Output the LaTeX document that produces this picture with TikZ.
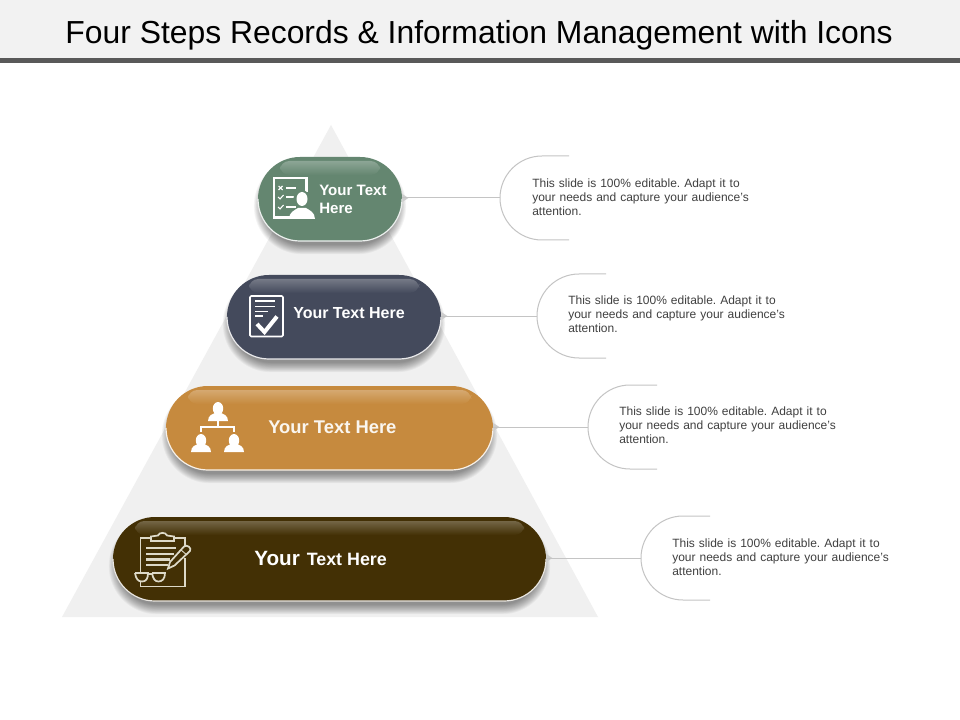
\documentclass[tikz,border=0pt]{standalone}
\usepackage{fontspec}
\setmainfont{Liberation Sans}
\usetikzlibrary{calc}
\definecolor{tri}{HTML}{F0F0F0}
\definecolor{cA}{HTML}{648670}
\definecolor{cB}{HTML}{444A5C}
\definecolor{cC}{HTML}{C68A3E}
\definecolor{cD}{HTML}{433005}
\definecolor{ruleg}{HTML}{C4C4C4}
\definecolor{bodyt}{HTML}{404040}
\definecolor{iconD}{HTML}{DDD9C8}
\tikzset{
  x=0.75pt,y=-0.75pt,
  pillbox/.style={rounded corners=31.5pt,minimum height=63pt,inner sep=0pt,fill=#1},
  lead/.style={draw=ruleg,line width=0.75pt},
  leaddot/.style={fill=ruleg!85!white},
  bodytext/.style={anchor=north west,inner sep=0pt,align=left,text=bodyt,font=\fontsize{9}{10.5}\selectfont,text width=175pt},
  pilltext/.style={anchor=west,inner sep=0pt,text=white,align=left,font=\bfseries},
  iconline/.style={draw=white,line width=1.1pt,line cap=butt},
  iconfill/.style={fill=white},
}
% #1 name, #2 left, #3 right, #4 top, #5 colour
\newcommand{\pillshape}[5]{%
  \pgfmathsetmacro{\cx}{(#2+#3)/2}\pgfmathsetmacro{\cy}{#4+42}\pgfmathsetmacro{\wpt}{(#3-#2)*0.75}
  \foreach \k in {0,...,11}{
    \pgfmathsetmacro{\gw}{\wpt-8+(11-\k)*1.3}\pgfmathsetmacro{\gh}{58+(11-\k)*1.3}\pgfmathsetmacro{\gr}{\gh/2-0.01}
    \fill[black,opacity=0.04,rounded corners=\gr pt] ($(\cx,\cy+7)+(-\gw/2 pt,-\gh/2 pt)$) rectangle ($(\cx,\cy+7)+(\gw/2 pt,\gh/2 pt)$);
  }
  \node[pillbox=#5,minimum width=\wpt pt] (#1) at (\cx,\cy) {};
  \begin{scope}
    \clip[rounded corners=31.5pt] (#2,#4) rectangle (#3,#4+84);
    \shade[top color=#5!74!white,bottom color=#5,rounded corners=7pt] (#2+22,#4+4) rectangle (#3-22,#4+18);
  \end{scope}
  \draw[white!88!#5,line width=0.9pt] (#2,#4+42) arc[start angle=180,end angle=90,x radius=42,y radius=42] -- (#3-42,#4+84) arc[start angle=90,end angle=0,x radius=42,y radius=42];
}
% #1 pill, #2 left of arc, #3 mid y
\newcommand{\callout}[3]{%
  \coordinate (#1a) at (#2,#3);
  \fill[leaddot] (#1.east |- #1a) ++(0,-4) -- ++(6,4) -- ++(-6,4) -- cycle;
  \draw[lead] (#1.east |- #1a) -- (#1a);
  \draw[lead] (#2+69,#3-42) -- (#2+42,#3-42) arc[start angle=90,end angle=270,x radius=42,y radius=-42] -- (#2+69,#3+42);
}
\newcommand{\personshape}[4]{% cx, head y, bottom y, half width
  \fill[iconfill] (#1,#2+1) ellipse[x radius=5.2,y radius=6.5];
  \fill[iconfill] (#1-#4,#3) .. controls (#1-#4,#3-6) and (#1-5,#3-7) .. (#1-3,#3-8) -- (#1+3,#3-8) .. controls (#1+5,#3-7) and (#1+#4,#3-6) .. (#1+#4,#3) -- cycle;
}
\begin{document}
\frenchspacing
\begin{tikzpicture}
\useasboundingbox (0,0) rectangle (960,720);
\fill[white] (0,0) rectangle (960,720);
\fill[black!5] (0,0) rectangle (960,58);
\fill[black!65] (0,58) rectangle (960,63);
\node[inner sep=0pt,font=\fontsize{23.9}{28}\selectfont,text=black] (title) at (479,35) {Four Steps Records \& Information Management with Icons};
\fill[tri] (331,125) -- (598,617) -- (62,617) -- cycle;

\pillshape{p1}{258}{402}{157}{cA}
\pillshape{p2}{227}{441}{275}{cB}
\pillshape{p3}{166}{493}{386}{cC}
\pillshape{p4}{113}{546}{517}{cD}

\callout{p1}{500}{198}
\callout{p2}{537}{316}
\callout{p3}{588}{427}
\callout{p4}{641}{558}

\node[bodytext] (t1) at (532,179) {This slide is 100\% editable. Adapt it to\\your needs and capture your audience's\\attention.};
\node[bodytext] (t2) at (568,296) {This slide is 100\% editable. Adapt it to\\your needs and capture your audience's\\attention.};
\node[bodytext] (t3) at (619,407) {This slide is 100\% editable. Adapt it to\\your needs and capture your audience's\\attention.};
\node[bodytext] (t4) at (672,539) {This slide is 100\% editable. Adapt it to\\your needs and capture your audience's\\attention.};

\node[pilltext,font=\bfseries\fontsize{11.3}{13.5}\selectfont] (l1) at (319,199.5) {Your Text\\Here};
\node[pilltext,font=\bfseries\fontsize{12}{13.5}\selectfont] (l2) at (293,313) {Your Text Here};
\node[pilltext,text=white!92!cC,font=\bfseries\fontsize{13.8}{15}\selectfont] (l3) at (268,427) {Your Text Here};
\node[pilltext,font=\bfseries\fontsize{13.4}{15}\selectfont] (l4) at (254,558) {{\fontsize{15.5}{15}\selectfont Your}\hspace{1.5pt} Text Here};

% icon 1: checklist with person
\draw[iconline,line width=1.7pt] (297,217.5) -- (274,217.5) -- (274,178) -- (306.5,178) -- (306.5,192);
\foreach \yy in {188,197,207}{\draw[iconline] (286,\yy) -- (296,\yy);}
\draw[iconline,line width=0.8pt] (278.5,186) -- (282.5,190) (282.5,186) -- (278.5,190);
\foreach \yy in {197,207}{\draw[iconline,line width=0.8pt] (278,\yy) -- (280,\yy+2) -- (283.5,\yy-2);}
\fill[cA] (301.5,198) circle[radius=8];
\fill[iconfill] (302,199) ellipse[x radius=5.5,y radius=7];
\fill[iconfill] (289,219) .. controls (289,212) and (295,210) .. (298,208) -- (306,208) .. controls (309,210) and (315,212) .. (315,219) -- cycle;

% icon 2: document with tick
\draw[iconline,line width=1.2pt,rounded corners=1pt] (250,296) rectangle (283,336.5);
\draw[iconline] (255,301) -- (275,301) (255,306.5) -- (275,306.5) (255,311.5) -- (268,311.5) (255,316) -- (263,316);
\draw[white,line width=3pt,line join=miter] (257,324) -- (264.5,332) -- (277,316.5);

% icon 3: organisation chart
\personshape{218}{407.5}{421}{10}
\personshape{201}{439.5}{452}{10}
\personshape{234}{439.5}{452}{10}
\draw[iconline,line width=1pt] (218,421) -- (218,427) (201,431.5) -- (201,427) -- (234,427) -- (234,431.5);

% icon 4: clipboard, pen, glasses
\begin{scope}[every path/.append style={draw=iconD,line width=1.3pt}]
\draw (152,538) -- (140.5,538) -- (140.5,586.5) -- (185,586.5) -- (185,558);
\draw (185,546) -- (185,538) -- (174,538);
\draw[fill=cD] (151,541) -- (151,536.5) -- (158,535.5) .. controls (159,532) and (166,532) .. (167,535.5) -- (174,536.5) -- (174,541) -- cycle;
\draw[line width=1.8pt] (146,548) -- (176,548) (146,554) -- (174,554) (146,559.5) -- (170,559.5) (146,565) -- (168,565);
\draw[fill=cD] (168,568.5) -- (170,562) -- (184,546.5) .. controls (187,544) and (192,548) .. (190,551) -- (174.5,565.5) -- cycle;
\draw[line width=.7pt] (181,550) -- (187,555);
\draw[fill=cD] (135,573) -- (148,573) .. controls (148,579) and (146,581.5) .. (142,581.5) .. controls (138,581.5) and (136,579) .. (135,573);
\draw[fill=cD] (152,573) -- (165,573) .. controls (165,579) and (162,581.5) .. (158.5,581.5) .. controls (155,581.5) and (153,579) .. (152,573);
\draw (148,574) -- (152,574);
\end{scope}
\end{tikzpicture}
\end{document}
